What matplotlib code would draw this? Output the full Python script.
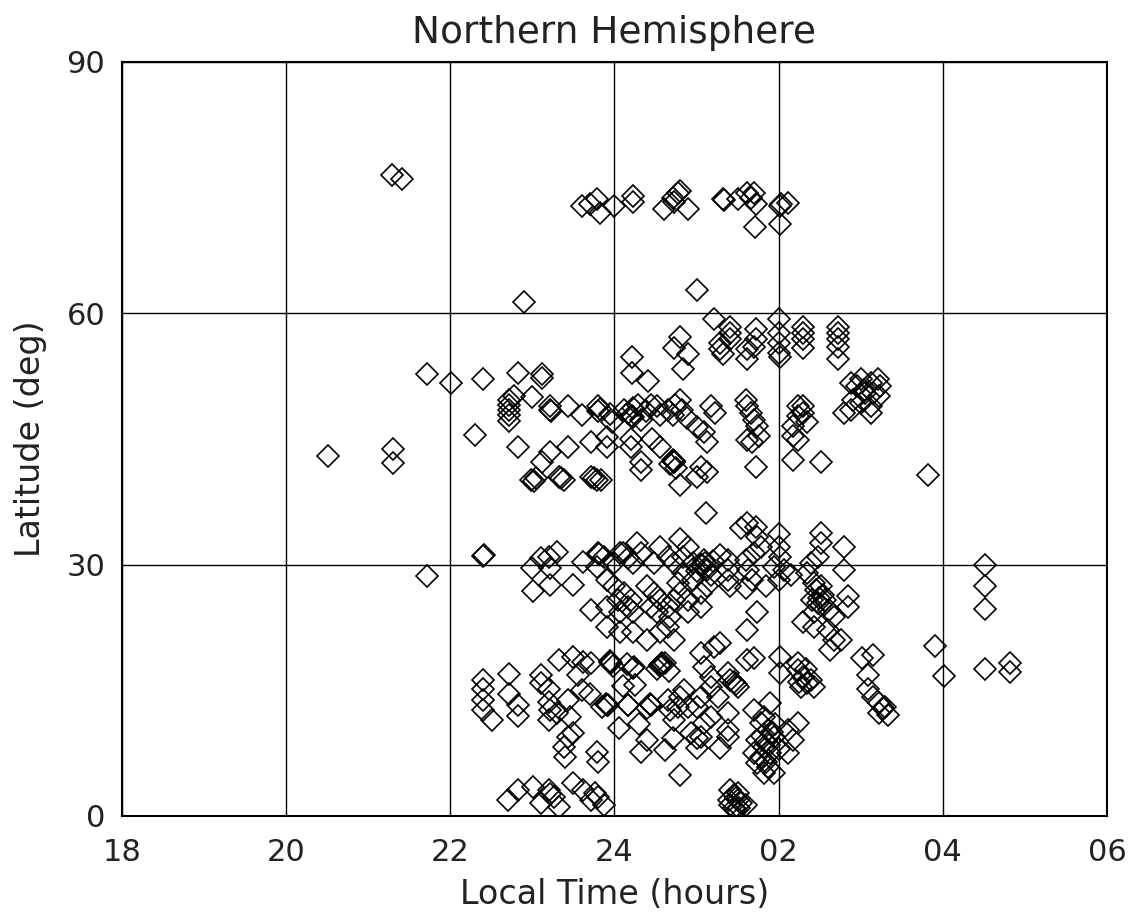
import numpy as np
import matplotlib
matplotlib.use("Agg")
import matplotlib.pyplot as plt

# local time in hours (24+ means after midnight), latitude in degrees
lt_isolated = [21.29, 21.41, 22.90, 25.01, 25.21, 20.51, 21.30, 21.30, 21.72, 22.01, 21.72, 27.82,
               28.51, 28.51, 28.51, 27.91, 28.01, 28.51, 28.82, 28.82, 25.11]
lat_isolated = [76.5, 76.0, 61.4, 62.8, 59.3, 43.0, 43.8, 42.1, 52.8, 51.7, 28.7, 40.7,
                29.9, 27.5, 24.7, 20.3, 16.7, 17.6, 18.3, 17.2, 36.2]

lt_top = [23.60, 23.70, 23.79, 23.82, 23.99, 24.22, 24.22, 24.60, 24.71, 24.77, 24.80, 24.90, 24.72,
          25.32, 25.33, 25.51, 25.62, 25.70, 25.72, 25.66, 25.71, 26.02, 26.11, 26.02, 26.03]
lat_top = [72.8, 73.1, 73.6, 72.0, 72.8, 74.0, 73.3, 72.4, 73.8, 74.4, 74.6, 72.4, 73.3,
           73.6, 73.5, 73.6, 74.4, 74.4, 73.0, 73.8, 70.3, 72.8, 73.2, 70.6, 73.0]

lt_mid_left = [22.30, 22.40, 22.82, 23.12, 23.12, 22.71, 22.71, 22.71, 22.71, 22.71, 22.77,
               22.82, 23.00, 23.22, 23.22, 23.23, 23.43, 23.61, 23.80, 23.80, 23.82, 23.91, 23.71,
               23.22, 23.43, 22.98, 23.04, 23.02, 23.32, 23.38, 23.35, 23.71, 23.79, 23.75, 23.12,
               23.95, 23.97]
lat_mid_left = [45.5, 52.1, 52.9, 52.7, 52.3, 49.7, 49.1, 48.5, 47.9, 47.1, 50.1,
                44.1, 50.0, 48.9, 48.5, 48.3, 48.9, 47.9, 48.3, 48.9, 48.6, 45.2, 44.6,
                43.5, 44.1, 40.1, 40.4, 40.0, 40.5, 40.1, 40.3, 40.5, 40.1, 40.3, 42.2,
                48.0, 47.0]

lt_mid_right = [24.80, 24.72, 24.90, 24.83, 24.21, 24.21, 24.41,
                25.41, 25.41, 25.29, 25.29, 25.32, 25.41, 25.62, 25.62, 25.72, 25.72, 25.70,
                26.00, 26.00, 26.00, 26.00, 26.02, 26.30, 26.30, 26.30, 26.30,
                26.72, 26.72, 26.72, 26.72, 26.72,
                24.11, 24.17, 24.23, 24.29, 24.22, 24.32, 24.38, 24.44, 24.52, 24.56, 24.65, 24.71,
                24.20, 24.21,
                24.80, 24.74, 24.82, 24.88, 25.01, 25.09, 25.13, 25.17, 25.23,
                24.72, 24.72, 24.73, 24.71, 24.68, 24.75, 24.80, 24.32, 24.32, 24.20, 24.20,
                24.46, 24.56, 25.05, 25.13, 25.01, 23.91, 23.83,
                25.60, 25.62, 25.66, 25.70, 25.74, 25.62, 25.68, 25.76, 25.72,
                26.23, 26.23, 26.18, 26.18, 26.18, 26.24, 26.51, 26.30, 26.30, 26.35,
                26.88, 26.96, 27.00, 27.04, 27.12, 27.21, 27.24, 27.22, 26.91, 27.00, 27.12,
                26.79, 26.88, 27.12, 27.05, 27.15]
lat_mid_right = [57.2, 55.9, 55.1, 53.3, 54.8, 52.9, 51.9,
                 58.4, 57.7, 56.5, 55.7, 55.1, 56.9, 55.7, 54.5, 58.1, 56.9, 56.0,
                 59.3, 57.7, 56.5, 55.3, 54.8, 58.4, 57.7, 56.9, 55.9,
                 58.4, 57.7, 56.9, 56.0, 54.5,
                 48.5, 48.1, 48.7, 49.1, 47.6, 47.3, 48.3, 49.1, 48.9, 47.9, 48.5, 47.9,
                 47.7, 47.8,
                 49.7, 49.0, 48.5, 47.5, 46.4, 45.8, 44.6, 48.9, 48.1,
                 42.3, 42.4, 42.2, 42.5, 42.0, 41.5, 39.5, 42.2, 41.3, 45.0, 44.1,
                 45.0, 44.1, 41.7, 41.0, 40.5, 44.1, 40.1,
                 49.7, 48.9, 48.1, 47.3, 46.5, 44.9, 44.6, 45.3, 41.6,
                 48.9, 47.7, 46.5, 45.3, 42.5, 44.9, 42.2, 48.9, 48.1, 47.0,
                 51.7, 51.3, 52.1, 50.9, 51.7, 52.1, 51.3, 50.1, 49.7, 49.3, 48.9,
                 48.1, 48.5, 48.1, 50.5, 50.5]

lt_band30 = [22.40, 22.41, 23.00, 23.10, 23.20, 23.30, 23.01, 23.22, 23.22, 23.50, 23.62, 23.80, 23.81,
             23.79, 23.71, 23.91, 24.10, 24.16,
             23.87, 24.07, 23.99, 24.28, 24.32, 24.23, 24.56, 24.65, 24.48, 24.80, 24.89, 24.84, 24.96, 24.72,
             23.91, 23.99, 24.11, 24.20, 24.04, 24.16, 24.07, 24.23, 24.40, 24.48, 24.56, 24.44, 24.52,
             24.65, 24.68, 24.72, 24.80, 24.89, 24.77, 24.84, 24.96, 25.05, 25.13, 25.05, 24.89,
             23.91, 24.07, 24.23, 24.40, 24.56, 24.65, 24.72,
             25.05, 25.09, 25.13, 25.17, 25.11, 25.01, 25.20, 25.07, 25.10,
             25.54, 25.62, 25.72, 25.74, 25.78, 25.70, 25.60, 25.63, 25.68, 25.60,
             25.38, 25.38, 25.38, 25.41, 25.29,
             26.00, 26.00, 26.02, 25.94, 26.06, 26.00, 25.84, 26.15,
             26.51, 26.51, 26.48, 26.39, 26.35, 26.43, 26.51, 26.48, 26.43, 26.67, 26.79, 26.79, 26.84, 26.84,
             26.45, 26.49, 26.54, 26.51, 26.57, 26.41, 26.61,
             25.62, 25.74, 26.30, 26.43, 26.60, 26.68, 26.63, 26.76]
lat_band30 = [31.0, 31.1, 29.6, 30.8, 30.9, 31.5, 26.8, 27.6, 29.6, 27.6, 30.3, 31.4, 31.3,
              29.7, 24.6, 24.9, 31.4, 30.8,
              30.9, 31.4, 30.2, 32.6, 31.4, 30.2, 32.1, 30.9, 30.2, 33.0, 32.1, 30.9, 30.2, 30.2,
              28.2, 27.4, 26.6, 25.8, 25.8, 25.0, 24.3, 24.3, 27.4, 26.6, 25.8, 25.0, 24.3,
              25.0, 23.8, 25.8, 26.6, 25.8, 27.8, 29.0, 28.2, 26.6, 27.4, 25.0, 24.3,
              22.6, 21.9, 21.9, 21.0, 21.9, 22.6, 21.0,
              30.0, 30.6, 29.4, 28.8, 29.6, 29.2, 30.4, 29.9, 30.2,
              34.4, 35.0, 34.5, 33.3, 32.1, 31.4, 30.6, 29.4, 28.2, 27.2,
              30.6, 29.4, 28.2, 27.4, 31.2,
              33.6, 32.1, 30.9, 29.7, 29.4, 28.2, 27.4, 28.8,
              33.8, 32.6, 30.9, 30.2, 29.0, 27.8, 27.4, 25.4, 24.3, 23.8, 32.1, 29.4, 26.2, 25.0,
              27.0, 26.0, 26.4, 25.2, 25.8, 25.8, 24.6,
              22.2, 24.4, 23.1, 22.6, 22.2, 21.0, 19.8, 21.0]

lt_low = [22.40, 22.40, 22.40, 22.40, 22.51, 22.71, 22.71, 22.82, 22.82,
          22.82, 22.70, 23.01, 23.20, 23.26, 23.32, 23.10, 23.22,
          23.32, 23.50, 23.62, 23.71, 23.10, 23.10, 23.20, 23.20, 23.22, 23.20, 23.30, 23.43, 23.46,
          23.43, 23.38, 23.40, 23.50, 23.50, 23.62, 23.71, 23.80, 23.87, 23.76,
          23.79, 23.80, 23.60, 23.70, 23.56,
          23.95, 23.96, 23.94, 23.98, 24.23, 24.24, 24.15, 24.56, 24.57, 24.55, 24.58, 24.52, 24.62, 24.66,
          23.91, 23.92, 23.90, 23.85, 24.16, 24.17, 24.44, 24.45, 24.43, 24.40, 24.65, 24.68, 24.77, 24.72,
          24.80, 24.89, 24.85,
          24.32, 24.62, 24.71, 24.40, 25.01, 25.01, 24.93, 25.29, 25.38, 24.80,
          24.05, 24.10, 24.25, 24.30,
          25.05, 25.21, 25.29, 25.09, 25.17, 25.17, 25.26, 25.05, 25.01, 25.17, 25.09, 25.05, 25.38, 25.38,
          25.62, 25.70, 25.41, 25.50, 25.38, 25.48, 25.45,
          26.02, 26.02,
          26.23, 26.23, 26.30, 26.35, 26.39, 26.43, 26.27, 26.33, 26.25,
          25.90, 25.82, 25.70, 25.78, 25.87, 25.94, 25.74, 25.82, 25.90, 25.78, 25.87, 25.94, 25.82,
          25.74, 25.70, 26.11, 26.18, 26.11, 26.23, 25.85, 25.88, 25.92, 25.80, 25.95, 25.85, 26.00,
          25.41, 25.45, 25.50, 25.41, 25.48, 25.54, 25.39, 25.51, 25.60, 25.45, 25.48, 25.52,
          27.02, 27.15, 27.09, 27.09, 27.15, 27.22, 27.22, 27.27, 27.33, 27.30]
lat_low = [16.2, 15.1, 13.9, 12.7, 11.5, 17.0, 14.5, 13.3, 11.9,
           3.1, 1.9, 3.5, 3.1, 2.3, 1.1, 1.6, 2.6,
           18.6, 19.0, 18.4, 18.3, 16.8, 15.9, 15.1, 13.6, 12.7, 11.5, 12.3, 13.9, 11.8,
           9.4, 8.2, 7.0, 9.9, 3.9, 3.1, 1.9, 2.3, 1.3, 2.8,
           7.6, 6.5, 15.0, 14.5, 16.8,
           18.4, 18.3, 18.5, 17.9, 17.7, 17.8, 18.1, 18.0, 18.1, 17.9, 18.2, 17.5, 18.3, 17.3,
           13.3, 13.2, 13.4, 13.0, 13.3, 13.2, 13.3, 13.2, 13.4, 12.9, 13.9, 12.7, 13.0, 11.5,
           14.2, 13.0, 15.0,
           7.6, 7.9, 9.3, 9.1, 8.1, 9.3, 9.9, 8.1, 9.4, 4.9,
           10.5, 15.5, 15.6, 11.0,
           19.5, 20.2, 20.7, 17.8, 16.6, 15.4, 14.2, 14.2, 13.0, 11.8, 11.1, 9.4, 12.3, 10.3,
           18.6, 18.9, 16.2, 15.4, 17.1, 15.8, 16.0,
           19.0, 17.1,
           18.3, 17.4, 16.6, 15.9, 16.2, 15.4, 15.4, 17.5, 16.0,
           13.5, 11.8, 12.7, 11.1, 10.3, 9.4, 9.1, 8.2, 7.5, 7.0, 5.9, 5.1, 5.1,
           6.3, 7.5, 10.3, 9.1, 7.5, 11.1, 9.0, 8.5, 10.0, 9.5, 11.0, 6.5, 8.0,
           3.1, 2.5, 1.9, 1.3, 0.7, 1.6, 1.9, 2.7, 1.3, 1.0, 2.2, 1.0,
           18.9, 19.2, 16.8, 15.1, 14.2, 13.5, 12.3, 12.9, 12.1, 13.0]

xticks = [18, 20, 22, 24, 26, 28, 30]
xtick_labels = ["18", "20", "22", "24", "02", "04", "06"]
yticks = [0, 30, 60, 90]

lt = np.concatenate([lt_isolated, lt_top, lt_mid_left, lt_mid_right, lt_band30, lt_low])
lat = np.concatenate([lat_isolated, lat_top, lat_mid_left, lat_mid_right, lat_band30, lat_low])

plt.rcParams['font.family'] = ['DejaVu Sans']
fig = plt.figure(figsize=(11.41, 9.22), dpi=100)
ax = fig.add_axes([0.1069, 0.115, 0.8633, 0.8178])

ax.plot(lt, lat, linestyle='none', marker='D', markersize=11.5,
        markerfacecolor='none', markeredgecolor='black', markeredgewidth=1.2)

ax.set_xlim(18, 30)
ax.set_ylim(0, 90)
ax.set_xticks(xticks)
ax.set_xticklabels(xtick_labels)
ax.set_yticks(yticks)
ax.grid(True, color='black', linewidth=1.0)
ax.set_axisbelow(True)
ax.tick_params(length=0, labelsize=22, pad=16, labelcolor='#222222')
ax.tick_params(axis='y', pad=12)
for sp in ax.spines.values():
    sp.set_linewidth(1.5)

ax.set_title("Northern Hemisphere", fontsize=27, pad=14, color='#222222')
ax.set_xlabel("Local Time (hours)", fontsize=24, labelpad=8, color='#222222')
ax.set_ylabel("Latitude (deg)", fontsize=24, labelpad=14, color='#222222')

fig.savefig("out.png", dpi=100)
